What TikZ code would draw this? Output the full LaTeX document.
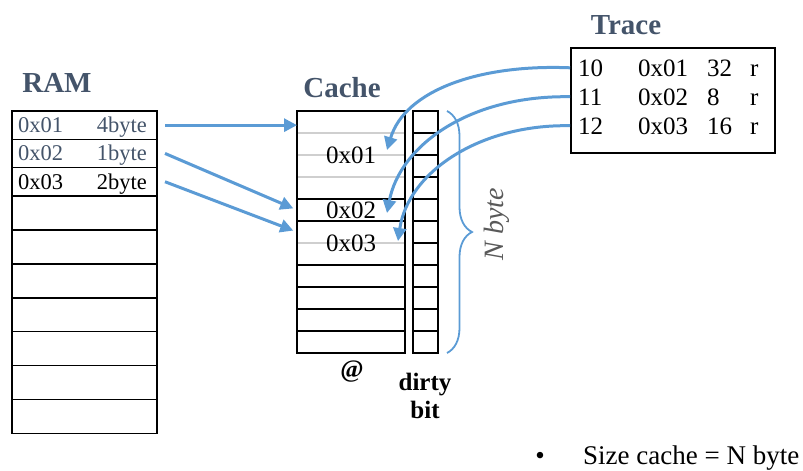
\documentclass[tikz,border=0pt]{standalone}
\usepackage{fontspec}
\setmainfont{Liberation Serif}
\usetikzlibrary{calc}
\usetikzlibrary{arrows.meta,decorations.pathreplacing}
\definecolor{slate}{HTML}{44546A}
\definecolor{arrowblue}{HTML}{5B9BD5}
\definecolor{rowgray}{HTML}{CFCFCF}

\begin{document}
\begin{tikzpicture}[x=1pt,y=-1pt]

 \tikzset{
    ramrow/.style={
      draw,
      line width=1.6pt,
      minimum width=145pt,
      inner sep=0pt,
      outer sep=0pt
    },
    cachecell/.style={
      draw=rowgray,
      line width=1.5pt,
      minimum width=108pt,
      minimum height=22pt,
      inner sep=0pt,
      outer sep=0pt
    },
    dirtycell/.style={
      draw,
      line width=1.6pt,
      minimum width=25pt,
      minimum height=22pt,
      inner sep=0pt,
      outer sep=0pt
    },
    frame/.style={draw, line width=1.6pt},
    title/.style={text=slate, font=\fontsize{29}{33}\selectfont\bfseries},
    ramtxt/.style={inner sep=0pt, font=\fontsize{22.5}{26}\selectfont},
    celltxt/.style={inner sep=0pt, font=\fontsize{25}{29}\selectfont},
    arr/.style={arrowblue, line width=3pt, -{Triangle[length=13pt,width=13pt]}}
  }

\useasboundingbox (0,0) rectangle (803,471);

% titles
\node[title] (ramtitle) at (57,83) {RAM};
\node[title] (cachetitle) at (342,88) {Cache};
\node[title] (tracetitle) at (626,25) {Trace};

% RAM
\foreach \i in {1,2,3}
    \node[ramrow, minimum height=28.3pt] (ram\i) at (84.5,{111+28.3*(\i-0.5)}) {};
\foreach \i in {4,...,10}
    \node[ramrow, minimum height=33.9pt] (ram\i) at (84.5,{196+33.9*(\i-3.5)}) {};

\node[ramtxt, anchor=base west, text=slate] (addr1) at ([xshift=6pt,yshift=-7.5pt]ram1.west) {0x01};
\node[ramtxt, anchor=base east, text=slate] (size1) at ([xshift=-10pt,yshift=-7.5pt]ram1.east) {4byte};
\node[ramtxt, anchor=base west, text=slate] (addr2) at ([xshift=6pt,yshift=-7.5pt]ram2.west) {0x02};
\node[ramtxt, anchor=base east, text=slate] (size2) at ([xshift=-10pt,yshift=-7.5pt]ram2.east) {1byte};
\node[ramtxt, anchor=base west] (addr3) at ([xshift=6pt,yshift=-7.5pt]ram3.west) {0x03};
\node[ramtxt, anchor=base east] (size3) at ([xshift=-10pt,yshift=-7.5pt]ram3.east) {2byte};

% cache and dirty bits
\foreach \i in {1,...,11} {
    \node[cachecell] (cache\i) at (351,{111+22*(\i-0.5)}) {};
    \node[dirtycell] (dirty\i) at (425.5,{111+22*(\i-0.5)}) {};
}
\draw[frame] (cache1.north west) rectangle (cache4.south east);
\draw[frame] (cache5.north west) rectangle (cache5.south east);
\draw[frame] (cache6.north west) rectangle (cache7.south east);
\foreach \i in {8,...,11}
    \draw[frame] (cache\i.north west) rectangle (cache\i.south east);

\node[celltxt] (lab1) at (cache2.south) {0x01};
\node[celltxt] (lab2) at (cache5) {0x02};
\node[celltxt] (lab3) at (cache6.south) {0x03};

\node[font=\fontsize{25}{29}\selectfont\bfseries] (atlab) at (352,372) {@};
\node[font=\fontsize{25}{28}\selectfont\bfseries, align=center] (dirtylab) at (425,396) {dirty\\bit};

% trace
\node[draw, line width=1.6pt, minimum width=204pt, minimum height=105pt] (trace) at (673,100.5) {};
\foreach \n/\a/\s/\y [count=\k] in {10/0x01/32/76, 11/0x02/8/105, 12/0x03/16/134} {
    \node[celltxt, anchor=base west] (id\k) at (578,\y) {\n};
    \node[celltxt, anchor=base west] (ad\k) at (638,\y) {\a};
    \node[celltxt, anchor=base west] (sz\k) at (707,\y) {\s};
    \node[celltxt, anchor=base west] (rw\k) at (750,\y) {r};
}

% RAM -> cache
\draw[arr] ([xshift=8pt]ram1.east) -- (ram1 -| cache1.west);
\draw[arr, shorten >=4pt] ([xshift=8pt]ram2.east) -- (cache5.west);
\draw[arr, shorten >=4pt] ([xshift=8pt]ram3.east) -- (cache6.west);

% trace -> cache
\coordinate (hit1) at (387,150);
\coordinate (hit2) at (387,213);
\coordinate (hit3) at (398,241);
\draw[arr] (trace.west |- id1) .. controls (480,64) and (405,90) .. (hit1);
\draw[arr] (trace.west |- id2) .. controls (470,95) and (400,145) .. (hit2);
\draw[arr] (trace.west |- id3) .. controls (480,124) and (408,172) .. (hit3);

% size brace
\draw[arrowblue, line width=1.8pt, decorate, decoration={brace, amplitude=25pt, aspect=0.5}]
    ([xshift=9pt]dirty1.north east) -- ([xshift=9pt]dirty11.south east);
\node[rotate=90, text=black!65, font=\fontsize{28}{32}\selectfont\itshape] (nbyte) at (497,224) {N byte};

\node[font=\fontsize{27}{31}\selectfont] (bullet) at (540,458) {•};
\node[font=\fontsize{27}{31}\selectfont, anchor=west, inner sep=0pt] (sizenote) at (583,458) {Size cache = N byte};
\end{tikzpicture}
\end{document}
